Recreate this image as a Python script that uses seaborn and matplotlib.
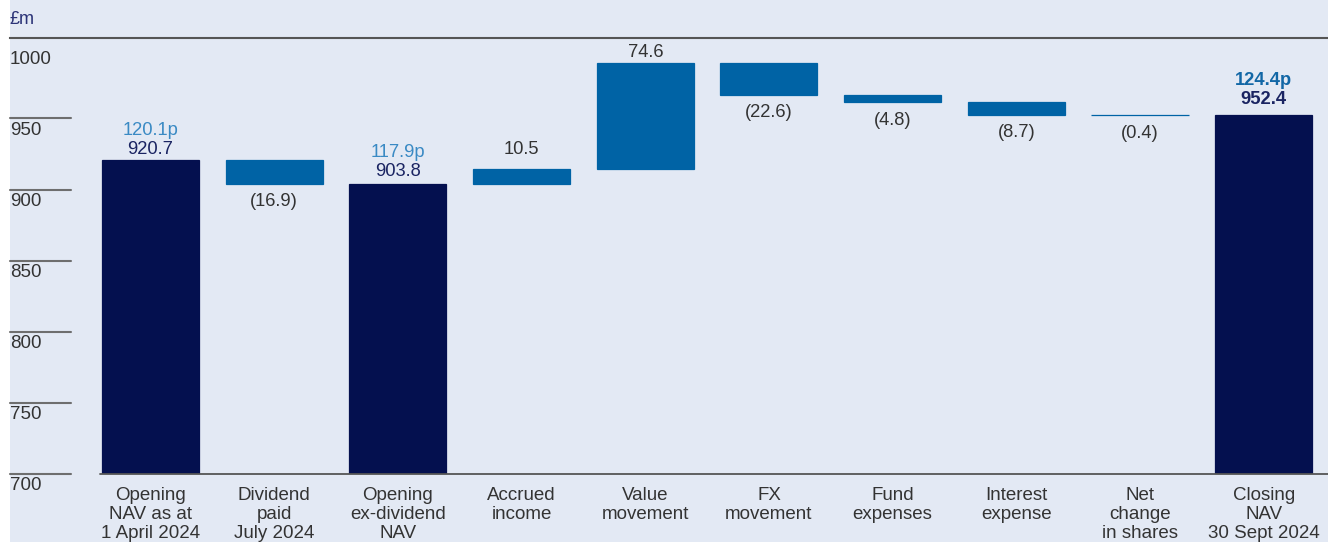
import matplotlib
matplotlib.use("Agg")
import matplotlib.pyplot as plt
import seaborn as sns
import pandas as pd
from matplotlib.patches import Rectangle

# NAV bridge, £m
categories = [
    "Opening\nNAV as at\n1 April 2024",
    "Dividend\npaid\nJuly 2024",
    "Opening\nex-dividend\nNAV",
    "Accrued\nincome",
    "Value\nmovement",
    "FX\nmovement",
    "Fund\nexpenses",
    "Interest\nexpense",
    "Net\nchange\nin shares",
    "Closing\nNAV\n30 Sept 2024",
]
changes = [920.7, -16.9, 903.8, 10.5, 74.6, -22.6, -4.8, -8.7, -0.4, 952.4]
is_total = [True, False, True, False, False, False, False, False, False, True]
pence = ["120.1p", "", "117.9p", "", "", "", "", "", "", "124.4p"]
y_labels = [700, 750, 800, 850, 900, 950, 1000]
grid_values = [700, 750, 800, 850, 900, 950]

NAVY = "#04104f"
BLUE = "#0063a5"
BG = "#e3e9f4"
TEXT = "#333333"

# waterfall geometry from the values
bottoms, heights = [], []
level = 0
for v, tot in zip(changes, is_total):
    if tot:
        bottoms.append(0)
        heights.append(v)
        level = v
    else:
        new = level + v
        bottoms.append(min(level, new))
        heights.append(abs(v))
        level = new

df = pd.DataFrame({"step": categories, "height": heights})

sns.set_style("white")
plt.rcParams["font.family"] = ["Liberation Sans", "DejaVu Sans"]

fig = plt.figure(figsize=(13.28, 5.42), dpi=100)
fig.patch.set_facecolor("white")
fig.patches.append(Rectangle((10 / 1328, 0), 1, 1, transform=fig.transFigure,
                             facecolor=BG, edgecolor="none", zorder=-10))
ax = fig.add_axes([10 / 1328, 68 / 542, 1318 / 1328, 436 / 542])
ax.set_facecolor("none")

sns.barplot(data=df, x="step", y="height", order=categories, width=0.785,
            color=BLUE, saturation=1, errorbar=None, ax=ax)

for p, b, tot in zip(ax.patches, bottoms, is_total):
    p.set_y(b)
    c = NAVY if tot else BLUE
    p.set_facecolor(c)
    p.set_edgecolor(c)
    p.set_linewidth(0.9)

ax.set_ylim(700, 1006.6)
ax.set_xlim(-1.136, 9.52)

# labels: pad in px between bar edge and text
label_pad_px = [6, 9, 8, 15, 6, 9, 10, 9, 10, 11]
px = 72 / 100
for i, (v, tot) in enumerate(zip(changes, is_total)):
    b, h = bottoms[i], heights[i]
    pad = label_pad_px[i] * px
    bold = "bold" if i == len(changes) - 1 else "normal"
    if tot:
        ax.annotate(f"{v:.1f}", (i, b + h), xytext=(0, pad), textcoords="offset points",
                    ha="center", va="baseline", fontsize=13.2, color="#1a2462", fontweight=bold)
        ax.annotate(pence[i], (i, b + h), xytext=(0, pad + 19.5 * px), textcoords="offset points",
                    ha="center", va="baseline", fontsize=13.2,
                    color="#1267a6" if bold == "bold" else "#3a8ac4", fontweight=bold)
    elif v > 0:
        ax.annotate(f"{v:.1f}", (i, b + h), xytext=(0, pad), textcoords="offset points",
                    ha="center", va="baseline", fontsize=13.2, color=TEXT)
    else:
        ax.annotate(f"({abs(v):.1f})", (i, b), xytext=(0, -pad), textcoords="offset points",
                    ha="center", va="top", fontsize=13.2, color=TEXT)

# short gridlines with labels sitting underneath
for g in grid_values:
    ax.axhline(g, xmin=0, xmax=61 / 1318, color="#6e6e6e", lw=1.5, clip_on=False)
for t in y_labels:
    ax.annotate(str(t), (0, t), xycoords=("axes fraction", "data"), xytext=(0, -2.5),
                textcoords="offset points", ha="left", va="top", fontsize=13.5, color=TEXT)

ax.axhline(700, xmin=90 / 1318, xmax=1, color="#555555", lw=1.3, clip_on=False)

ax.set_yticks([])
ax.set_xlabel("")
ax.set_ylabel("")
ax.set_xticks(range(len(categories)))
ax.set_xticklabels(categories, fontsize=13.5, color=TEXT, linespacing=1.13)
ax.tick_params(axis="x", length=0, pad=9.5)
for s in ["left", "right", "bottom"]:
    ax.spines[s].set_visible(False)
ax.spines["top"].set_color("#555555")
ax.spines["top"].set_linewidth(1.5)

fig.text(10 / 1328, 1 - 20 / 542, "£m", ha="left", va="center", fontsize=13, color="#2b3377")

fig.savefig("out.png", dpi=100)
